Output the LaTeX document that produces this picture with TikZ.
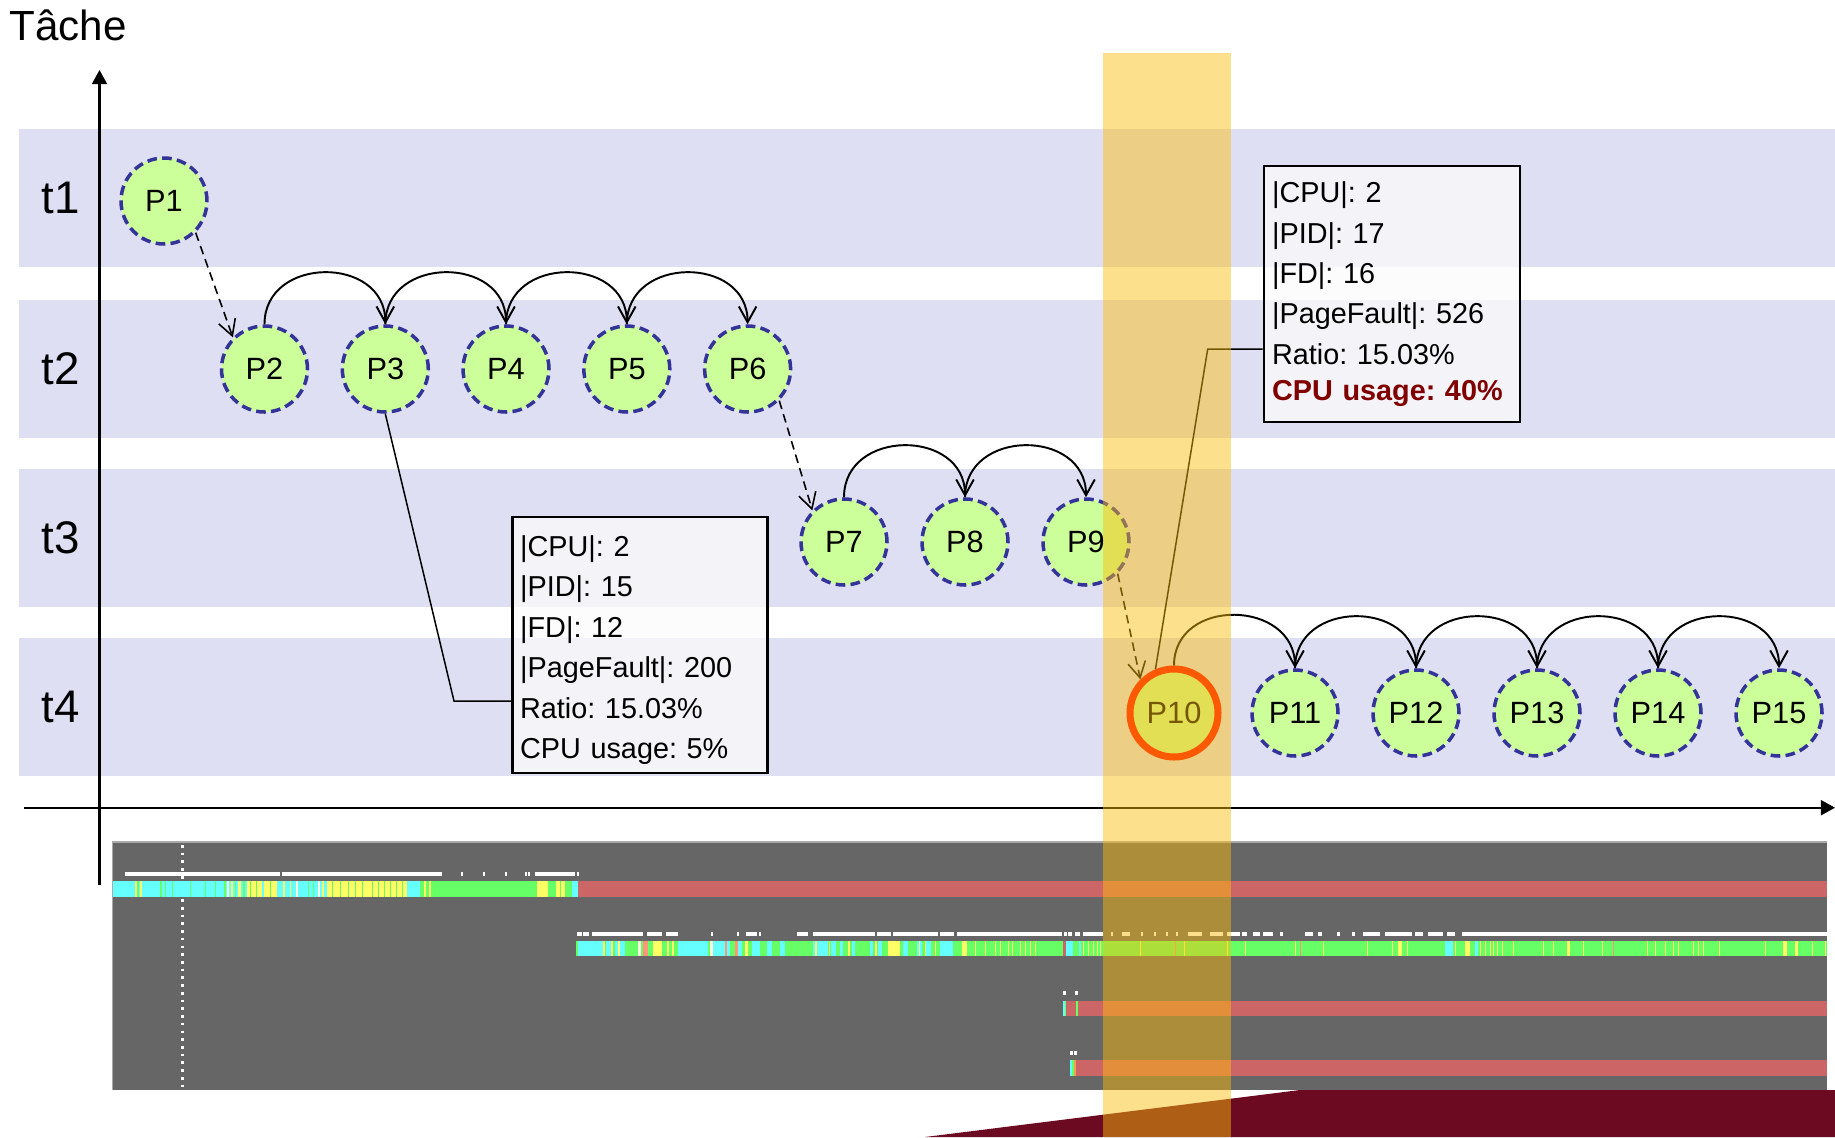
\documentclass[tikz,border=0pt]{standalone}
\usepackage{fontspec}
\setmainfont{Liberation Sans}
\usetikzlibrary{arrows.meta}
\frenchspacing

\definecolor{bandlav}{RGB}{223,223,243}
\definecolor{procfill}{RGB}{204,255,153}
\definecolor{procedge}{RGB}{51,51,153}
\definecolor{chartgray}{RGB}{102,102,102}
\definecolor{chartedge}{RGB}{170,170,170}
\definecolor{cb}{RGB}{102,255,255}
\definecolor{yb}{RGB}{255,255,102}
\definecolor{gb}{RGB}{102,255,102}
\definecolor{rb}{RGB}{204,102,102}
\definecolor{wb}{RGB}{250,250,225}
\definecolor{sb}{RGB}{255,150,120}
\definecolor{ob}{RGB}{240,160,80}
\definecolor{hilite}{RGB}{251,189,10}
\definecolor{deepwine}{RGB}{107,10,32}
\definecolor{alertred}{RGB}{128,0,0}

\tikzset{
  proc/.style={circle, draw=procedge, fill=procfill, line width=2pt,
    dash pattern=on 5.5pt off 3pt, minimum size=1.72cm, inner sep=0pt,
    font=\fontsize{17.5}{20}\selectfont},
  hotproc/.style={circle, draw=red, fill=procfill, line width=4pt,
    minimum size=1.76cm, inner sep=0pt, font=\fontsize{17.5}{20}\selectfont},
  hop/.style={line width=1.1pt, -{Straight Barb[length=9pt,width=10pt]}},
  jump/.style={line width=0.9pt, dash pattern=on 5pt off 3pt,
    -{Straight Barb[length=9pt,width=10pt]}},
  axisline/.style={line width=1.2pt, -{Triangle[length=8pt,width=8.5pt]}},
  callout/.style={line width=0.85pt},
  infobox/.style={draw=black, line width=1.4pt, fill=gray!3, fill opacity=0.75,
    text opacity=1, anchor=north west, align=left, inner xsep=0.15cm,
    inner ysep=2pt, text width=4.8cm, minimum width=5.1cm,
    minimum height=5.12cm, font=\fontsize{16.4}{23}\selectfont},
  tlab/.style={anchor=west, inner sep=0pt, font=\fontsize{26}{30}\selectfont},
  band/.style={fill=bandlav},
}
% taller first line, which lowers the centred text block
\newcommand{\toprow}{\rule{0pt}{17.5pt}}

\begin{document}
\begin{tikzpicture}[x=0.02cm, y=-0.02cm]
\useasboundingbox (0,0) rectangle (1835,1137);

% task bands
\fill[band] (19,129) rectangle (1835,267);
\fill[band] (19,300) rectangle (1835,438);
\fill[band] (19,469) rectangle (1835,607);
\fill[band] (19,638) rectangle (1835,776);

% trace view
\fill[chartgray] (112.5,842) rectangle (1827,1090);
\draw[chartedge, line width=0.6pt] (112.5,1090) -- (112.5,842) -- (1827,842);
\draw[white, line width=1.5pt, dash pattern=on 1.5pt off 2.9pt] (182.5,845) -- (182.5,1090);

% row 1
\foreach \a/\b/\c in {113/433/cb, 135/137/yb, 137/139/gb, 140/142/yb, 160/162/gb,
  165/166/gb, 172/173/gb, 190/191/gb, 205/206/gb, 215/216/gb, 224/226/gb,
  227/229/wb, 231/233/yb, 235/236/gb, 238/241/yb, 243/245/gb, 247/277/yb,
  250/251/gb, 256/257/gb, 262/264/cb, 270/271/gb, 283/285/yb, 290/291/yb,
  296/298/wb, 308/309/gb, 313/314/gb, 318/320/wb, 322/324/yb, 327/367/yb,
  332/333/gb, 340/341/gb, 348/349/gb, 355/356/gb, 362/363/gb, 367/407/yb,
  372/373/gb, 378/379/gb, 384/385/gb, 390/391/gb, 396/397/gb, 402/403/gb,
  420/433/gb, 424/426/yb, 429/431/yb, 433/537/gb, 537/548/yb, 548/556/gb,
  556/565/yb, 560/561/gb, 565/572/gb, 572/578/cb, 578/1827/rb}
  \fill[\c] (\a,881) rectangle (\b,897);
\foreach \a/\b in {125/280, 282/442, 461/463, 483/485, 505/507, 525/527,
  528/530, 535/575, 577/579}
  \fill[white] (\a,872) rectangle (\b,876);

% row 2
\foreach \a/\b/\c in {576/1827/gb, 578/603/cb, 606/611/cb, 615/625/cb,
  678/708/cb, 711/730/cb, 735/742/cb, 752/760/cb, 767/772/cb, 780/785/cb,
  813/828/cb, 831/836/cb, 840/843/cb, 852/855/cb, 870/873/cb, 878/882/cb,
  903/908/cb, 917/922/cb, 926/931/cb, 940/953/cb, 1066/1073/cb, 1079/1081/cb,
  1445/1453/cb, 1475/1478/cb,
  603/605/yb, 611/613/yb, 618/620/yb, 638/641/wb, 643/648/sb, 653/662/yb,
  667/669/yb, 672/674/yb, 710/713/wb, 725/727/sb, 735/738/sb, 745/748/yb,
  815/817/yb, 829/830/yb, 848/850/yb, 875/877/yb, 888/900/yb, 919/920/yb,
  925/926/yb, 935/936/yb, 962/967/yb, 975/976/yb, 985/986/yb, 995/996/yb,
  1000/1001/yb, 1008/1009/yb, 1012/1013/yb, 1020/1021/yb, 1025/1026/yb,
  1030/1031/yb, 1035/1036/yb, 1063/1066/rb, 1083/1084/yb, 1088/1089/yb,
  1093/1094/yb, 1097/1098/yb, 1100/1101/yb, 1140/1141/yb, 1175/1176/sb,
  1184/1185/yb, 1227/1228/yb, 1245/1246/yb, 1295/1296/yb, 1300/1301/sb,
  1323/1324/yb, 1367/1368/yb, 1392/1393/yb, 1398/1402/yb, 1407/1408/yb,
  1455/1456/yb, 1465/1470/yb, 1480/1481/yb, 1485/1486/yb, 1490/1491/yb,
  1493/1494/yb, 1497/1498/yb, 1502/1503/yb, 1513/1514/yb, 1543/1544/yb,
  1553/1554/yb, 1567/1570/yb, 1583/1584/yb, 1602/1603/yb, 1613/1614/sb,
  1647/1648/yb, 1655/1656/yb, 1665/1666/yb, 1673/1674/yb, 1678/1679/yb,
  1693/1694/yb, 1698/1699/yb, 1703/1704/yb, 1719/1720/yb, 1765/1766/yb,
  1783/1787/yb, 1795/1798/yb, 1812/1813/yb, 1825/1826/yb}
  \fill[\c] (\a,941) rectangle (\b,956);
\foreach \a/\b in {577/582, 583/589, 592/643, 647/662, 666/678, 711/713,
  737/739, 746/757, 759/761, 797/808, 813/875, 877/891, 893/938, 940/954,
  957/1062, 1064/1067, 1068/1072, 1075/1080, 1083/1103, 1111/1113, 1122/1130,
  1141/1143, 1154/1156, 1166/1168, 1176/1178, 1188/1202, 1210/1223, 1227/1240,
  1242/1247, 1253/1260, 1263/1273, 1280/1283, 1305/1313, 1318/1322, 1337/1340,
  1352/1355, 1363/1380, 1385/1412, 1415/1423, 1428/1443, 1447/1455, 1462/1827}
  \fill[white] (\a,932) rectangle (\b,936);

% rows 3 and 4
\foreach \a/\b/\c in {1063/1827/rb, 1063/1065/cb, 1065/1066/gb, 1076/1078/gb}
  \fill[\c] (\a,1001) rectangle (\b,1016);
\foreach \a/\b in {1063/1066, 1075/1078}
  \fill[white] (\a,991) rectangle (\b,995);
\foreach \a/\b/\c in {1070/1827/rb, 1070/1072/cb, 1072/1074/gb, 1074/1076/ob}
  \fill[\c] (\a,1060) rectangle (\b,1076);
\foreach \a/\b in {1070/1073, 1074/1077}
  \fill[white] (\a,1051) rectangle (\b,1055);

% wine corner
\fill[deepwine] (925,1137) -- (1300,1090) -- (1835,1090) -- (1835,1137) -- cycle;

% axes
\coordinate (yfoot) at (99.5,885);
\coordinate (ytop) at (99.5,70);
\coordinate (xfoot) at (24,807.7);
\coordinate (xend) at (1835,807.7);
\draw[axisline] (yfoot) -- (ytop);
\draw[axisline] (xfoot) -- (xend);
\node[anchor=base west, inner sep=0pt, font=\fontsize{24}{28}\selectfont] (title) at (9,40) {Tâche};

% task labels
\node[tlab] (t1) at (41,198) {t1};
\node[tlab] (t2) at (41,369) {t2};
\node[tlab] (t3) at (41,538) {t3};
\node[tlab] (t4) at (41,707) {t4};

% processes
\node[proc] (P1) at (164,201) {P1};
\node[proc] (P2) at (264.5,369) {P2};
\node[proc] (P3) at (385.3,369) {P3};
\node[proc] (P4) at (506,369) {P4};
\node[proc] (P5) at (626.8,369) {P5};
\node[proc] (P6) at (747.6,369) {P6};
\node[proc] (P7) at (844,542) {P7};
\node[proc] (P8) at (965,542) {P8};
\node[proc] (P9) at (1086,542) {P9};
\node[hotproc] (P10) at (1174,713) {P10};
\node[proc] (P11) at (1295,713) {P11};
\node[proc] (P12) at (1416,713) {P12};
\node[proc] (P13) at (1537,713) {P13};
\node[proc] (P14) at (1658,713) {P14};
\node[proc] (P15) at (1779,713) {P15};

% successors within a task
\foreach \a/\b in {P2/P3, P3/P4, P4/P5, P5/P6, P7/P8, P8/P9,
  P10/P11, P11/P12, P12/P13, P13/P14, P14/P15}
  \draw[hop] (\a.north) .. controls +(0,-69) and +(0,-69) .. (\b.north);

% hand-over between tasks
\draw[jump] (P1.south east) -- (P2.north west);
\draw[jump] (P6.south east) -- (P7.north west);
\draw[jump] (P9.south east) -- (P10.north west);

% statistics boxes
\node[infobox] (box1) at (511.4,516) {\toprow|CPU|: 2\\|PID|: 15\\|FD|: 12\\|PageFault|: 200\\Ratio: 15.03\%\\CPU usage: 5\%};
\node[infobox, minimum width=5.126cm, minimum height=5.13cm] (box2) at (1262.7,164.5)
  {|CPU|: 2\\|PID|: 17\\|FD|: 16\\|PageFault|: 526\\Ratio: 15.03\%\\[-2.6pt]\textcolor{alertred}{\textbf{CPU usage: 40\%}}};

\coordinate (k1) at (454,701);
\draw[callout] (P3.south) -- (k1) -- (k1 -| box1.west);
\coordinate (k2) at (1207.7,349);
\draw[callout] (P10.113) -- (k2) -- (k2 -| box2.west);

% time-window highlight
\fill[hilite, opacity=0.47] (1103,52.7) rectangle (1231,1137);
\end{tikzpicture}
\end{document}
